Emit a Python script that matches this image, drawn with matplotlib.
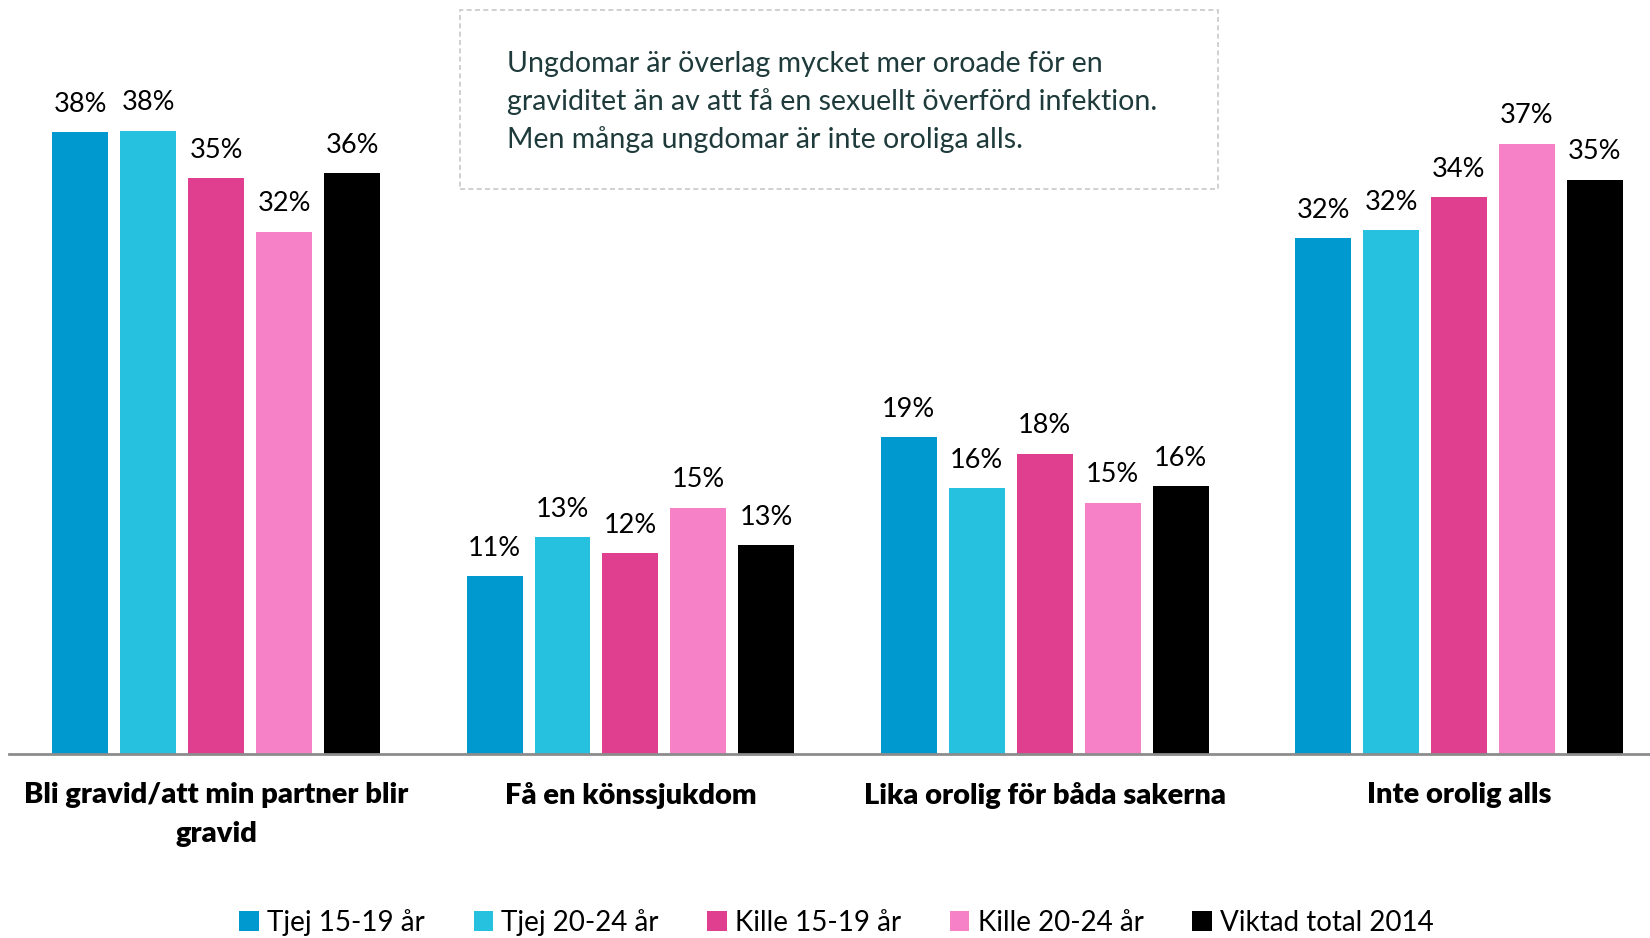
import numpy as np
import matplotlib.pyplot as plt
from matplotlib.patches import Rectangle

# Data (percent)
categories = ["Bli gravid/att min partner blir\ngravid", "Få en könssjukdom",
              "Lika orolig för båda sakerna", "Inte orolig alls"]
series_names = ["Tjej 15-19 år", "Tjej 20-24 år", "Kille 15-19 år", "Kille 20-24 år", "Viktad total 2014"]
tjej_15_19 = [38.1, 10.9, 19.4, 31.6]
tjej_20_24 = [38.2, 13.3, 16.3, 32.1]
kille_15_19 = [35.3, 12.3, 18.4, 34.1]
kille_20_24 = [32.0, 15.1, 15.4, 37.4]
viktad_total = [35.6, 12.8, 16.4, 35.2]
colors = ["#0099CF", "#25C1DF", "#E03E8F", "#F781C6", "#000000"]

note = ("Ungdomar är överlag mycket mer oroade för en\n"
        "graviditet än av att få en sexuellt överförd infektion.\n"
        "Men många ungdomar är inte oroliga alls.")

plt.rcParams['font.family'] = ['Lato', 'DejaVu Sans']

fig = plt.figure(figsize=(16.5, 9.38), dpi=100)
ax = fig.add_axes([9 / 1650, 184 / 938, 1641 / 1650, 754 / 938])

x = np.arange(len(categories))
pitch = 0.164
width = 0.135
all_series = [tjej_15_19, tjej_20_24, kille_15_19, kille_20_24, viktad_total]
for i, (vals, name, c) in enumerate(zip(all_series, series_names, colors)):
    bars = ax.bar(x + (i - 2) * pitch, vals, width, color=c, label=name)
    ax.bar_label(bars, labels=[f"{v:.0f}%" for v in vals], padding=11, fontsize=19.5)

ax.set_xlim(-0.5, 3.461)
ax.set_ylim(0, 46.2)
ax.set_yticks([])
ax.set_xticks(x)
ax.set_xticklabels(categories, fontsize=21, fontweight='heavy', linespacing=1.62)
ax.tick_params(axis='x', length=0, pad=20)
for s in ['top', 'right', 'left']:
    ax.spines[s].set_visible(False)
ax.spines['bottom'].set_color('#8C8C8C')
ax.spines['bottom'].set_linewidth(2)

# Note box
fig.patches.append(Rectangle((460 / 1650, 1 - 189 / 938), 758 / 1650, 178.5 / 938,
                             transform=fig.transFigure, fill=False,
                             edgecolor='#C8C8C8', linestyle=(0, (3, 2)), linewidth=1.2))
fig.text(507 / 1650, 1 - 102 / 938, note, fontsize=20.5, color='#1E3A3A',
         va='center', ha='left', linespacing=1.5)

fig.legend(loc='center', bbox_to_anchor=(0.507, 0.017), ncol=5, frameon=False,
           fontsize=20, handlelength=0.7, handleheight=0.75, handletextpad=0.3,
           columnspacing=1.75)

fig.savefig('out.png', dpi=100)
